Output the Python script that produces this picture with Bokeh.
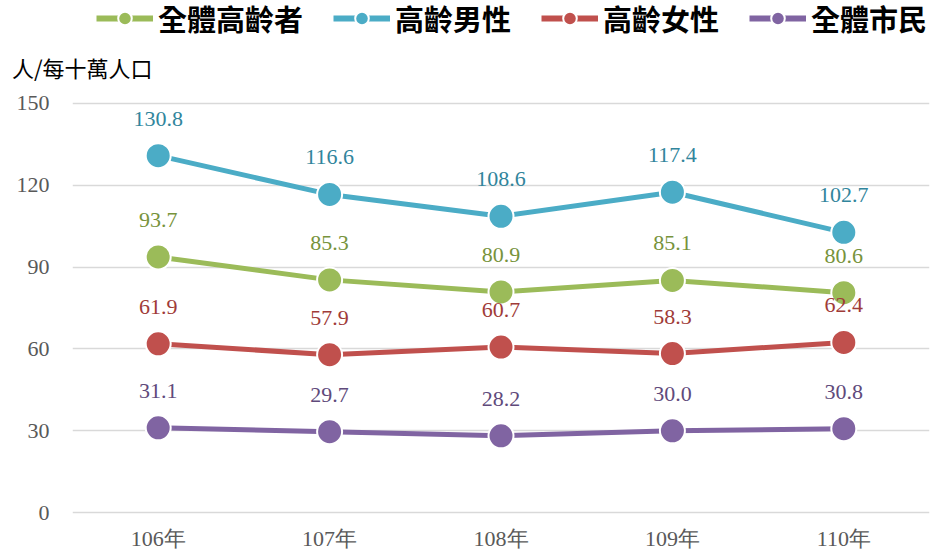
from bokeh.plotting import figure
from bokeh.layouts import column
from bokeh.models import ColumnDataSource, FixedTicker, Legend, LegendItem, Range1d
from bokeh.embed import file_html
from bokeh.resources import INLINE
from bokeh.core.properties import value

years = ["106年", "107年", "108年", "109年", "110年"]
all_elderly = [93.7, 85.3, 80.9, 85.1, 80.6]
elderly_male = [130.8, 116.6, 108.6, 117.4, 102.7]
elderly_female = [61.9, 57.9, 60.7, 58.3, 62.4]
all_citizens = [31.1, 29.7, 28.2, 30.0, 30.8]
unit_label = "人/每十萬人口"

series = [
    ("全體高齡者", all_elderly, "#9BBB59", "#77933C"),
    ("高齡男性", elderly_male, "#4BACC6", "#31859C"),
    ("高齡女性", elderly_female, "#C0504D", "#A03B38"),
    ("全體市民", all_citizens, "#8064A2", "#604A7B"),
]

# header figure holding the legend and the unit label
head = figure(frame_width=936, frame_height=90, x_range=Range1d(0, 1), y_range=Range1d(0, 1),
              x_axis_type=None, y_axis_type=None,
              output_backend="svg", toolbar_location=None,
              min_border_left=0, min_border_right=0, min_border_top=0, min_border_bottom=0)
head.grid.visible = False
head.outline_line_color = None

# main chart
p = figure(frame_width=857, frame_height=415, x_range=years, y_range=(-1, 151),
           output_backend="svg", toolbar_location=None,
           min_border_left=72, min_border_right=7, min_border_top=10, min_border_bottom=44)
p.outline_line_color = None
p.xgrid.grid_line_color = None
p.ygrid.grid_line_color = "#D9D9D9"
p.ygrid.grid_line_width = 1.5
p.yaxis.ticker = FixedTicker(ticks=[0, 30, 60, 90, 120, 150])
for ax in (p.xaxis, p.yaxis):
    ax.axis_line_color = None
    ax.major_tick_line_color = None
    ax.minor_tick_line_color = None
    ax.major_label_text_font = "Liberation Serif"
    ax.major_label_text_font_size = "22px"
    ax.major_label_text_color = "#595959"
p.yaxis.major_label_standoff = 17
p.xaxis.major_label_standoff = 4

items = []
for name, vals, color, lcolor in series:
    src = ColumnDataSource(dict(x=years, y=vals, t=[f"{v:.1f}" for v in vals]))
    p.line("x", "y", source=src, line_color=color, line_width=5)
    p.scatter("x", "y", source=src, size=25, fill_color=color, line_color="white", line_width=2)
    p.text("x", "y", text="t", source=src, text_align="center", text_baseline="middle",
           y_offset=-37, text_font=value("Liberation Serif"), text_font_size="22px",
           text_color=lcolor)
    dummy = ColumnDataSource(dict(x=[0.0], y=[float("nan")]))
    lr = head.line("x", "y", source=dummy, line_color=color, line_width=6)
    sr = head.scatter("x", "y", source=dummy, size=16, fill_color=color, line_color="white",
                      line_width=2)
    items.append(LegendItem(label=name, renderers=[lr, sr]))

legend = Legend(items=items, orientation="horizontal", location=(96, 51),
                padding=0, margin=0, spacing=30, label_standoff=5,
                glyph_width=57, glyph_height=34, label_height=34,
                label_text_font="Noto Sans CJK TC", label_text_font_size="29px",
                label_text_font_style="bold", label_text_color="black",
                border_line_color=None, background_fill_alpha=0)
head.add_layout(legend, "center")

# unit label (as a glyph-less legend entry so it sits outside the chart frame)
blank = head.line("x", "y", source=ColumnDataSource(dict(x=[0.0], y=[float("nan")])),
                  line_alpha=0)
unit = Legend(items=[LegendItem(label=unit_label, renderers=[blank])], location=(12, 7),
              padding=0, margin=0, label_standoff=0, glyph_width=0, glyph_height=30,
              label_height=30, label_text_font="Noto Sans CJK TC", label_text_font_size="22px",
              label_text_color="black", border_line_color=None, background_fill_alpha=0)
head.add_layout(unit, "center")

layout = column(head, p, spacing=0)
open("out.html", "w").write(file_html(layout, INLINE))
